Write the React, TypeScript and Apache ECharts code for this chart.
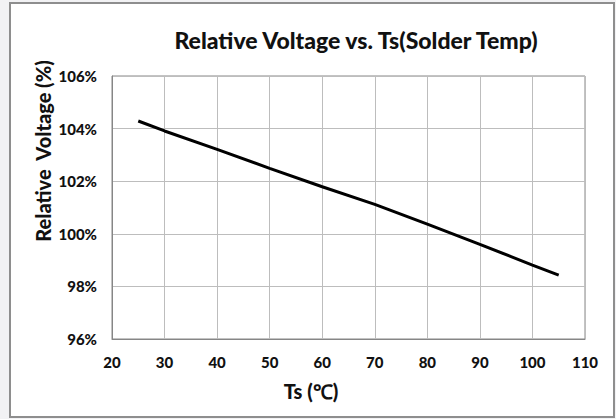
import React, { useEffect, useRef } from "react";
import * as echarts from "echarts";

const titleText = "Relative Voltage vs. Ts(Solder Temp)";
const xAxisTitle = "Ts (℃)";
const yAxisTitle = "Relative  Voltage (%)";
const tempC = [25, 30, 40, 50, 60, 70, 80, 90, 100, 105];
const relVoltage = [104.29, 103.91, 103.21, 102.49, 101.79, 101.12, 100.37, 99.6, 98.81, 98.43];
const xMin = 20, xMax = 110, xStep = 10;
const yMin = 96, yMax = 106, yStep = 2;

const FONT = "Lato, 'Open Sans', sans-serif";

export default function App() {
  const ref = useRef<HTMLDivElement>(null);
  useEffect(() => {
    if (!ref.current) return;
    const chart = echarts.init(ref.current, null, { renderer: "svg" });
    chart.setOption({
      animation: false,
      backgroundColor: "#f2f2f4",
      graphic: [
        {
          type: "rect",
          z: -10,
          shape: { x: 10, y: 3, width: 604, height: 414 },
          style: { fill: "#ffffff", stroke: "#8e8e8e", lineWidth: 2 },
        },
        {
          type: "text",
          x: 356,
          y: 40,
          style: {
            text: titleText,
            font: `900 23px ${FONT}`,
            fill: "#111111",
            textAlign: "center",
            textVerticalAlign: "middle",
          },
        },
        {
          type: "text",
          x: 311,
          y: 391,
          style: {
            text: xAxisTitle,
            font: `900 20px ${FONT}`,
            fill: "#111111",
            textAlign: "center",
            textVerticalAlign: "middle",
          },
        },
        {
          type: "text",
          x: 43,
          y: 151,
          rotation: Math.PI / 2,
          style: {
            text: yAxisTitle,
            font: `900 20px ${FONT}`,
            fill: "#111111",
            textAlign: "center",
            textVerticalAlign: "middle",
          },
        },
      ],
      grid: {
        left: 112,
        top: 76,
        right: 31,
        bottom: 80,
        show: true,
        borderColor: "#868686",
        borderWidth: 1,
        backgroundColor: "#ffffff",
      },
      xAxis: {
        type: "value",
        min: xMin,
        max: xMax,
        interval: xStep,
        axisLine: { show: true, lineStyle: { color: "#868686", width: 1 } },
        axisTick: { show: false },
        axisLabel: {
          color: "#111111",
          fontFamily: FONT,
          fontWeight: 900,
          fontSize: 15,
          margin: 15,
        },
        splitLine: { show: true, lineStyle: { color: "#bdbdbd", width: 1 } },
      },
      yAxis: {
        type: "value",
        min: yMin,
        max: yMax,
        interval: yStep,
        axisLine: { show: true, lineStyle: { color: "#868686", width: 1 } },
        axisTick: { show: false },
        axisLabel: {
          color: "#111111",
          fontFamily: FONT,
          fontWeight: 900,
          fontSize: 15,
          margin: 15,
          formatter: "{value}%",
        },
        splitLine: { show: true, lineStyle: { color: "#bdbdbd", width: 1 } },
      },
      series: [
        {
          type: "line",
          data: tempC.map((t, i) => [t, relVoltage[i]]),
          showSymbol: false,
          symbol: "none",
          lineStyle: { color: "#000000", width: 3 },
        },
      ],
    });
    return () => chart.dispose();
  }, []);
  return (
    <div
      ref={ref}
      style={{ position: "fixed", left: 0, top: 0, width: 616, height: 419 }}
    />
  );
}
